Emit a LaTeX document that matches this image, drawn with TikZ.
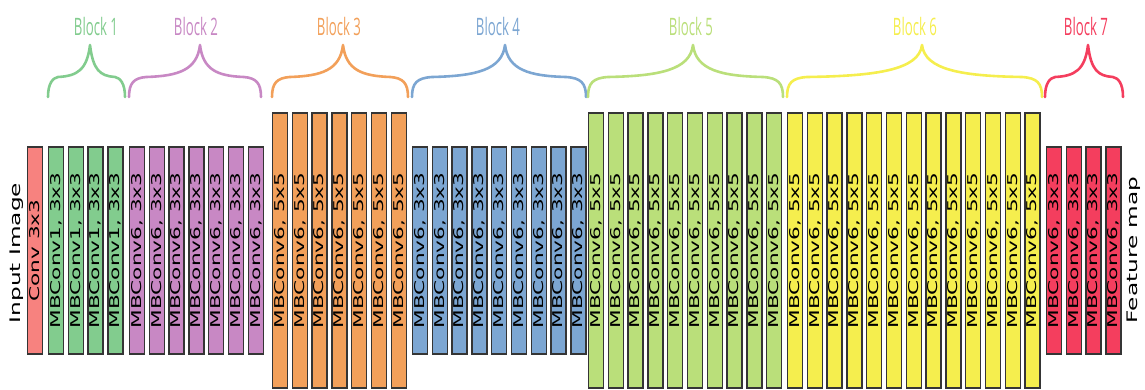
\documentclass[tikz,border=0pt]{standalone}
\usepackage{fontspec}
\usepackage{graphicx}
\newfontfamily\barfont{DejaVu Sans}
\newfontfamily\labelfont{Open Sans}

% layer colours
\definecolor{cConv}{HTML}{F7827F}
\definecolor{cB1}{HTML}{82CC8E}
\definecolor{cB2}{HTML}{C888C4}
\definecolor{cB3}{HTML}{F2A05A}
\definecolor{cB4}{HTML}{7CA6D2}
\definecolor{cB5}{HTML}{BADF7A}
\definecolor{cB6}{HTML}{F5EE4E}
\definecolor{cB7}{HTML}{F43E5E}
\definecolor{barline}{HTML}{353535}

% rotated, elongated layer caption
\newcommand\bartext[1]{\scalebox{1.6}[1]{\barfont\fontsize{13.5}{14}\selectfont #1}}

% one row of equal layers: name, colour, first left edge, count, size style, caption
\newcommand\layerrow[6]{%
  \foreach \i in {1,...,#4}{%
    \pgfmathsetmacro\bx{#3+8+(\i-1)*19.8}%
    \node[barbox,#5,fill=#2] (#1-\i) at (\bx,250.5) {\bartext{#6}};
  }}

% curly brace over a block: colour, left, right, tip x
\newcommand\blockbrace[4]{%
  \pgfmathsetmacro\braceE{min(20,0.13*(#3-#2))}%
  \draw[bracepath,draw=#1]
    (#2,97) .. controls (#2,83) and ({#2+5},78) .. ({#2+\braceE},77)
    .. controls ({#4-0.4*(#4-#2-\braceE)},76) and ({#4-3},70) .. (#4,45)
    .. controls ({#4+3},70) and ({#4+0.4*(#3-#4-\braceE)},76) .. ({#3-\braceE},77)
    .. controls ({#3-5},78) and (#3,83) .. (#3,97);
}

\tikzset{
  barbox/.style={draw=barline,line width=1.3pt,rotate=90,minimum height=15pt,inner sep=0pt,shape=rectangle},
  tallbar/.style={minimum width=275pt},
  shortbar/.style={minimum width=207pt},
  bracepath/.style={line width=2.6pt,line cap=round,line join=round},
  blocklabel/.style={font=\labelfont\fontsize{24}{26}\selectfont,inner sep=0pt},
  sidelabel/.style={rotate=90,inner sep=0pt,font=\barfont\fontsize{14.5}{16}\selectfont}
}

\begin{document}
\begin{tikzpicture}[x=1pt,y=-1pt]
\useasboundingbox (0,0) rectangle (1145,390);

% side captions
\node[sidelabel] (input) at (17,253) {\scalebox{1.6}[1]{Input Image}};
\node[sidelabel] (fmap) at (1134,250) {\scalebox{1.6}[1]{Feature map}};

% stem
\node[barbox,shortbar,fill=cConv] (stem) at (35,250.5) {\bartext{Conv 3x3}};

% blocks of MBConv layers
\layerrow{b1}{cB1}{48}{4}{shortbar}{MBConv1, 3x3}
\layerrow{b2}{cB2}{129}{7}{shortbar}{MBConv6, 3x3}
\layerrow{b3}{cB3}{272}{7}{tallbar}{MBConv6, 5x5}
\layerrow{b4}{cB4}{412}{9}{shortbar}{MBConv6, 3x3}
\layerrow{b5}{cB5}{588}{10}{tallbar}{MBConv6, 5x5}
\layerrow{b6}{cB6}{787}{13}{tallbar}{MBConv6, 5x5}
\layerrow{b7}{cB7}{1046}{4}{shortbar}{MBConv6, 3x3}

% braces
\blockbrace{cB1}{48}{125}{90}
\blockbrace{cB2}{129}{261}{200}
\blockbrace{cB3}{272}{408}{343}
\blockbrace{cB4}{412}{586}{505}
\blockbrace{cB5}{588}{783}{693}
\blockbrace{cB6}{787}{1042}{922}
\blockbrace{cB7}{1045}{1123}{1088}

% block titles
\node[blocklabel,text=cB1] (t1) at (96,27) {\scalebox{0.55}[1]{Block 1}};
\node[blocklabel,text=cB2] (t2) at (196,27) {\scalebox{0.55}[1]{Block 2}};
\node[blocklabel,text=cB3] (t3) at (339,27) {\scalebox{0.55}[1]{Block 3}};
\node[blocklabel,text=cB4] (t4) at (498,27) {\scalebox{0.55}[1]{Block 4}};
\node[blocklabel,text=cB5] (t5) at (691,27) {\scalebox{0.55}[1]{Block 5}};
\node[blocklabel,text=cB6] (t6) at (915,27) {\scalebox{0.55}[1]{Block 6}};
\node[blocklabel,text=cB7] (t7) at (1086,27) {\scalebox{0.55}[1]{Block 7}};
\end{tikzpicture}
\end{document}
